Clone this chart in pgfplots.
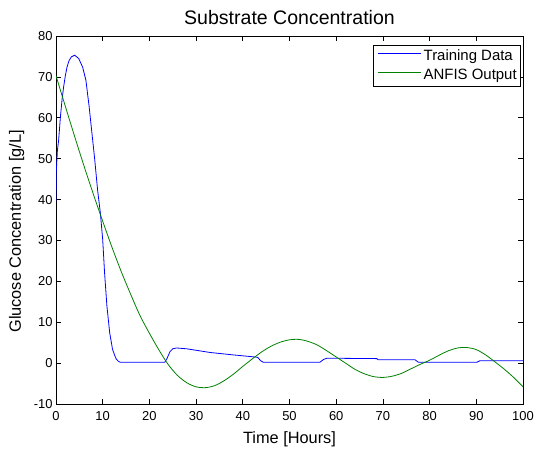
\documentclass[border=0pt]{standalone}
\usepackage{fontspec}
\setmainfont{Liberation Sans}
\usepackage{pgfplots}
\pgfplotsset{compat=1.18}
\definecolor{mblue}{RGB}{0,0,255}
\definecolor{mgreen}{RGB}{0,128,0}
\begin{document}
\begin{tikzpicture}
\begin{axis}[name=ax, at={(0,0)}, anchor=south west,
  scale only axis, width=467bp, height=368bp,
  xmin=0, xmax=100, ymin=-10, ymax=80,
  xtick={0,10,...,100}, ytick={-10,0,...,80},
  xtick pos=both, ytick pos=both,
  xticklabel pos=bottom, yticklabel pos=left,
  tick align=inside, major tick length=5bp,
  axis line style={line width=0.8bp},
  every tick/.style={black, line width=0.7bp},
  tick label style={font=\fontsize{13}{13}\selectfont},
  xticklabel style={yshift=-4bp},
  /pgf/number format/assume math mode=true,
  every axis title shift=0pt,
  title={Substrate Concentration},
  title style={at={(axis description cs:0.5,1.0299)}, anchor=base, font=\fontsize{19.6}{20}\selectfont},
  xlabel={Time [Hours]},
  xlabel style={at={(axis description cs:0.5,-0.106)}, anchor=base, font=\fontsize{16.4}{17}\selectfont},
  ylabel={Glucose Concentration [g/L]},
  ylabel style={at={(axis description cs:-0.07495,0.469)}, anchor=base, font=\fontsize{16.4}{17}\selectfont},
  legend style={at={(axis description cs:0.9957,0.9755)}, anchor=north east,
    draw=black, line width=0.6bp, fill=white,
    font=\fontsize{15}{15}\selectfont,
    inner xsep=2bp, inner ysep=2.2bp, row sep=2.7bp,
    nodes={inner sep=2bp, text depth=0.21em}},
  legend cell align=left,
  legend image code/.code={\path (0bp,0bp); \draw[#1] (3bp,0.3em) -- (46bp,0.3em);},
]
\addplot[mblue, line width=0.8bp] coordinates {
(0,39.5) (0.05,46.5) (0.3,52) (0.57,54.6) (0.93,60) (1.3,64.5) (1.64,67.6)
(2.0,70.3) (2.36,72.4) (2.8,74.0) (3.3,74.9) (4.0,75.3) (4.86,74.5)
(5.7,72.4) (6.4,69.2) (7.1,62.7) (7.7,56.2) (8.3,49.7) (8.9,42.4)
(9.5,36.7) (10.0,30.2) (10.4,22.1) (10.9,14.0) (11.5,7.4) (12.1,3.4)
(12.6,1.8) (12.9,1.0) (13.4,0.4) (13.8,0.2) (23.3,0.2) (23.8,1.2)
(24.4,2.8) (25.0,3.5) (25.8,3.7) (28.0,3.5) (33.0,2.6) (38.0,2.0)
(42.6,1.5) (43.2,1.4) (43.8,0.6) (44.4,0.2) (56.5,0.2) (57.3,0.9)
(58.0,1.2) (68.7,1.1) (69.0,0.8) (76.9,0.8) (77.6,0.2) (90.1,0.2)
(90.8,0.6) (100,0.6)
};
\addlegendentry{Training Data}
\addplot[mgreen, line width=0.8bp, smooth, tension=0.5] coordinates {
(0,70.3) (2,62.8) (4,55.4) (6,48.2) (8,41.3) (10,34.7) (12,28.3)
(14,22.3) (16,16.8) (18,11.6) (20,7.3) (22,3.3) (24,-0.3) (26,-3.0)
(28,-4.8) (30,-5.8) (32,-6.0) (34,-5.5) (36,-4.3) (38,-2.7) (40,-0.8)
(42,1.0) (44,2.7) (46,4.1) (48,5.1) (50,5.7) (52,5.8) (54,5.3)
(56,4.4) (58,3.0) (60,1.5) (62,0.0) (64,-1.5) (66,-2.6) (68,-3.3)
(70,-3.5) (72,-3.2) (74,-2.5) (76,-1.4) (78,-0.3) (80,0.7) (82,1.9)
(84,3.0) (86,3.7) (88,3.8) (90,3.3) (92,2.0) (94,0.3) (96,-1.5)
(98,-3.5) (100,-5.8)
};
\addlegendentry{ANFIS Output}
\end{axis}
\pgfresetboundingbox
\path[use as bounding box] (-56bp,-46bp) rectangle (481bp,404bp);
\end{tikzpicture}
\end{document}
